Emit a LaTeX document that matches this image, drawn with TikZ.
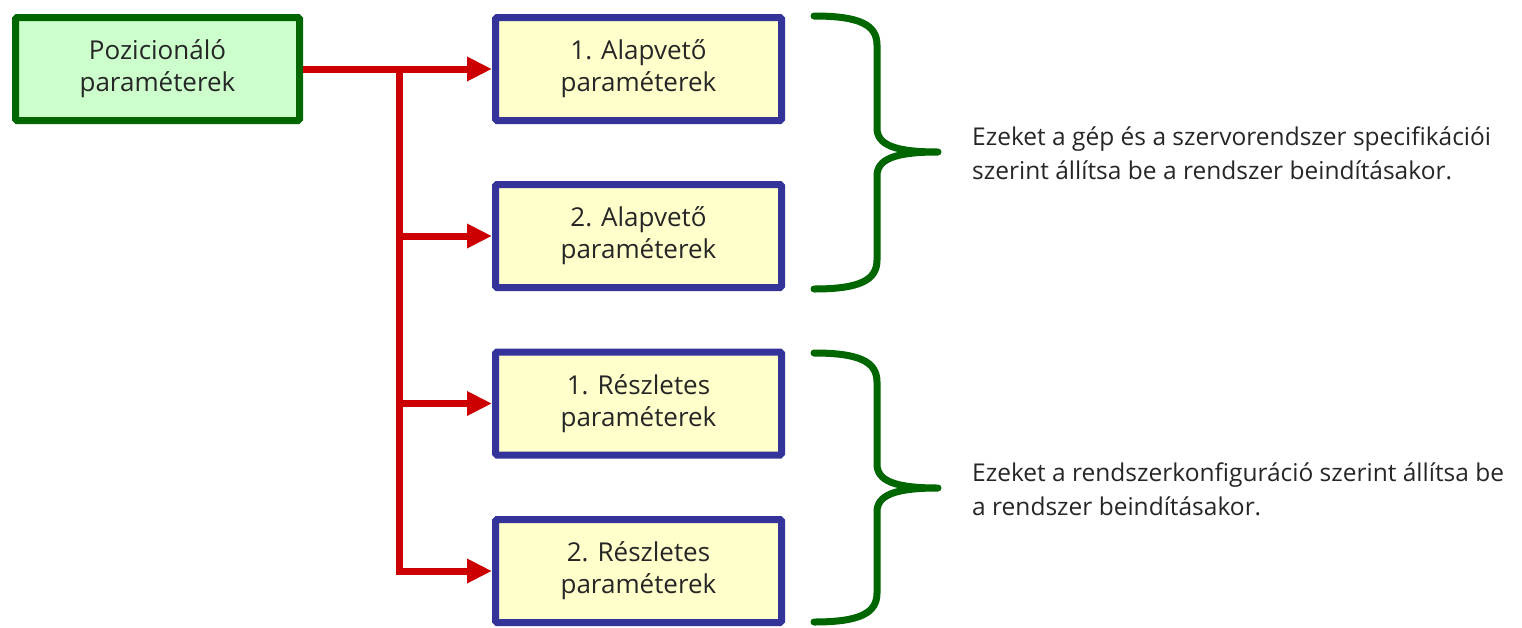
\documentclass[tikz,border=0pt]{standalone}
\usepackage{fontspec}
\setmainfont{Open Sans}
\usetikzlibrary{arrows.meta}
\definecolor{rootfill}{HTML}{CCFFCC}
\definecolor{rootline}{HTML}{006600}
\definecolor{boxline}{HTML}{333399}
\definecolor{boxfill}{HTML}{FFFFCC}
\definecolor{linkred}{HTML}{CC0000}
\definecolor{bracegreen}{HTML}{006600}
\definecolor{ink}{HTML}{262626}
\begin{document}
\begin{tikzpicture}[x=1pt,y=-1pt,
  every node/.style={text=ink},
  rootbox/.style={draw=rootline,fill=rootfill,line width=7pt,rounded corners=1.5pt,
    minimum width=284pt,minimum height=103pt,align=center,inner sep=0pt,
    font=\fontsize{26}{32}\selectfont},
  parbox/.style={draw=boxline,fill=boxfill,line width=7pt,rounded corners=1.5pt,
    minimum width=286pt,minimum height=103pt,align=center,inner sep=0pt,
    font=\fontsize{26}{32}\selectfont},
  link/.style={draw=linkred,line width=7pt},
  linkarrow/.style={link,-{Triangle[length=25pt,width=23pt]}},
  bracepath/.style={draw=bracegreen,line width=7pt,line cap=round,line join=round},
  note/.style={align=left,inner sep=0pt,font=\fontsize{24.5}{34}\selectfont}]
\useasboundingbox (0,0) rectangle (1522,627);

% root and parameter boxes
\node[rootbox] (root) at (157.5,69) {Pozicionáló\\paraméterek};
\node[parbox] (b1) at (638.5,69) {1. Alapvető\\paraméterek};
\node[parbox] (b2) at (638.5,236) {2. Alapvető\\paraméterek};
\node[parbox] (b3) at (638.5,403.5) {1. Részletes\\paraméterek};
\node[parbox] (b4) at (638.5,571) {2. Részletes\\paraméterek};

% connectors
\coordinate (trunk) at (399,69);
\coordinate (trunkend) at (399,571);
\draw[linkarrow] (root.east) -- (b1.west);
\draw[link] (trunk) -- ([yshift=3.5pt]trunkend);
\draw[linkarrow] (trunk |- b2.west) -- (b2.west);
\draw[linkarrow] (trunk |- b3.west) -- (b3.west);
\draw[linkarrow] ([xshift=-3.5pt]trunkend) -- (b4.west);

% braces
\draw[bracepath] (814,16) .. controls (860,16) and (877,25) .. (877,45)
  -- (877,128) .. controls (877,145) and (895,152) .. (938,152)
  .. controls (895,152) and (877,159) .. (877,176)
  -- (877,260) .. controls (877,280) and (860,289) .. (814,289);
\draw[bracepath] (814,353) .. controls (860,353) and (877,362) .. (877,382)
  -- (877,464) .. controls (877,481) and (895,488) .. (938,488)
  .. controls (895,488) and (877,495) .. (877,512)
  -- (877,593) .. controls (877,613) and (860,622) .. (814,622);

% notes
\node[note,anchor=base west] (n1) at (972,145) {Ezeket a gép és a szervorendszer specifikációi};
\node[note,anchor=base west] (n1b) at (972,179) {szerint állítsa be a rendszer beindításakor.};
\node[note,anchor=base west] (n2) at (972,481) {Ezeket a rendszerkonfiguráció szerint állítsa be};
\node[note,anchor=base west] (n2b) at (972,515) {a rendszer beindításakor.};
\end{tikzpicture}
\end{document}
